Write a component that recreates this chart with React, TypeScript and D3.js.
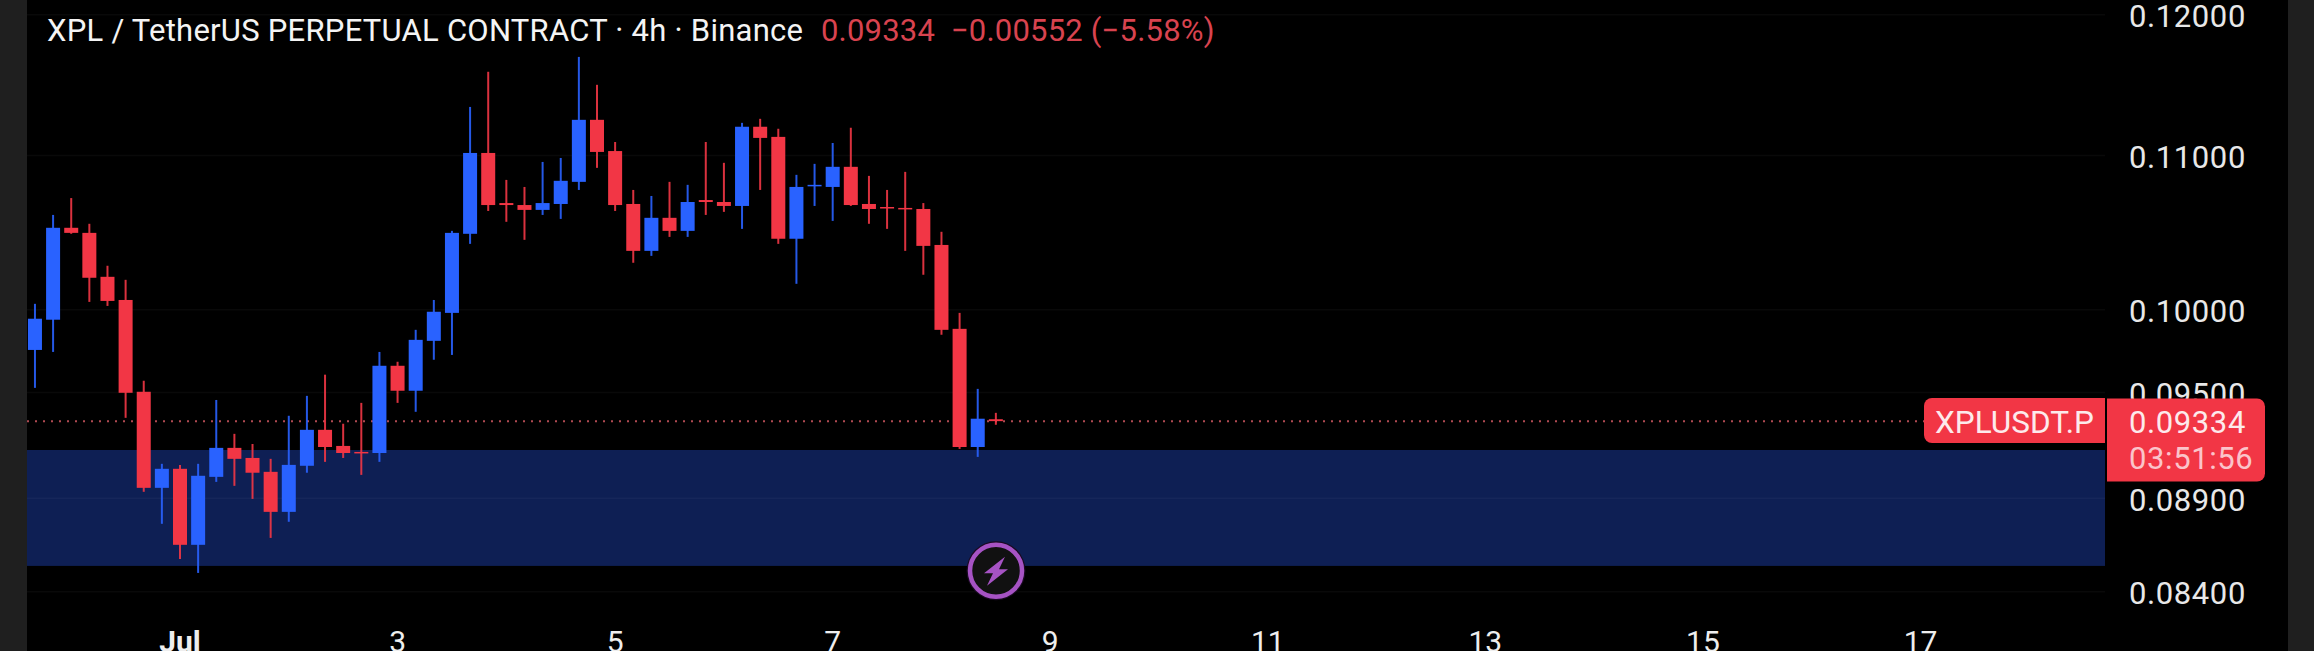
import React from "react";
import * as d3 from "d3";

const opens = [.09754,.09938,.10519,.10486,.10205,.10060,.09505,.08957,.09063,.08647,.09018,.09181,.09124,.09046,.08825,.09080,.09284,.09192,.09158,.09152,.09659,.09511,.09809,.09980,.10480,.11017,.10681,.10668,.10636,.10675,.10822,.11245,.11030,.10675,.10370,.10584,.10499,.10701,.10688,.10662,.11197,.11127,.10448,.10795,.10788,.10923,.10675,.10655,.10649,.10642,.10408,.09882,.09186,.09345];
const highs = [.10036,.10603,.10714,.10545,.10275,.10186,.09570,.09091,.09085,.09091,.09457,.09261,.09203,.09119,.09365,.09481,.09606,.09319,.09440,.09742,.09683,.09876,.10060,.10499,.11335,.11584,.10835,.10788,.10956,.10983,.11691,.11491,.11092,.10768,.10728,.10822,.10802,.11092,.10950,.11224,.11252,.11183,.10869,.10943,.11085,.11190,.10862,.10768,.10889,.10681,.10493,.09980,.09522,.09382];
const lows = [.09528,.09742,.10480,.10048,.10023,.09353,.08935,.08760,.08572,.08498,.08990,.08968,.08896,.08684,.08771,.09041,.09102,.09124,.09029,.09102,.09440,.09388,.09695,.09724,.10415,.10629,.10558,.10441,.10603,.10577,.10768,.10916,.10629,.10294,.10338,.10460,.10460,.10603,.10623,.10512,.10768,.10415,.10161,.10662,.10564,.10662,.10545,.10512,.10370,.10218,.09846,.09175,.09130,.09313];
const closes = [.09944,.10519,.10486,.10199,.10054,.09499,.08957,.09063,.08647,.09024,.09181,.09119,.09041,.08825,.09085,.09284,.09186,.09152,.09152,.09659,.09511,.09815,.09987,.10486,.11017,.10668,.10668,.10636,.10681,.10829,.11245,.11024,.10668,.10370,.10584,.10499,.10688,.10688,.10662,.11197,.11120,.10448,.10788,.10802,.10923,.10668,.10642,.10649,.10642,.10402,.09876,.09186,.09348,.09334];

const priceTicks = [0.12, 0.11, 0.1, 0.095, 0.089, 0.084];
const dateLabels = ["Jul", "3", "5", "7", "9", "11", "13", "15", "17"];
const zonePrices = [0.09169, 0.08535];
const lastPrice = 0.09334;
const titleMain = "XPL / TetherUS PERPETUAL CONTRACT · 4h · Binance";
const titleQuote = "0.09334  −0.00552 (−5.58%)";

const W = 2314, H = 651;
const PLOT_L = 27, PLOT_R = 2105;
const BLUE = "#2962ff", RED = "#f23645";
const FONT = "Roboto, sans-serif";

export default function App() {
  const y = d3.scaleLog().domain([0.084, 0.12]).range([591.7, 14.7]);
  const x = d3.scaleLinear().domain([8, 104]).range([180, 1920.5]);
  const bodyW = 14;
  const lastY = y(lastPrice);
  return (
    <svg width={W} height={H} viewBox={`0 0 ${W} ${H}`} style={{ position: "absolute", left: 0, top: 0, background: "#000", fontFamily: FONT }}>
      <rect x={0} y={0} width={PLOT_L} height={H} fill="#1f1f1f" />
      <rect x={2288} y={0} width={W - 2288} height={H} fill="#1f1f1f" />
      <rect x={PLOT_L} y={y(zonePrices[0])} width={PLOT_R - PLOT_L} height={y(zonePrices[1]) - y(zonePrices[0])} fill="#0e1f54" />
      {priceTicks.map((t) => (
        <line key={t} x1={PLOT_L} x2={PLOT_R} y1={y(t)} y2={y(t)} stroke="#fff" strokeOpacity={0.035} strokeWidth={1.5} />
      ))}
      <line x1={PLOT_L} x2={1924} y1={lastY} y2={lastY} stroke="#b04a52" strokeWidth={2} strokeDasharray="2 6" />
      {opens.map((o, i) => {
        const c = closes[i];
        const col = c >= o ? BLUE : RED;
        const top = y(Math.max(o, c));
        const bot = y(Math.min(o, c));
        return (
          <g key={i}>
            <line x1={x(i)} x2={x(i)} y1={y(highs[i])} y2={y(lows[i])} stroke={col} strokeWidth={2} strokeOpacity={0.9} />
            <rect x={x(i) - bodyW / 2} y={top} width={bodyW} height={Math.max(bot - top, 1.5)} fill={col} />
          </g>
        );
      })}
      <text x={47} y={41} fontSize={31} letterSpacing={0.25} fill="#f4f4f4">{titleMain}</text>
      <text x={821} y={41} fontSize={31} letterSpacing={0.2} fill="#d8434f" xmlSpace="preserve">{titleQuote}</text>
      {priceTicks.map((t) => (
        <text key={t} x={2129} y={y(t) + 12.5} fontSize={31} letterSpacing={0.6} fill="#e8e8e8">{t.toFixed(5)}</text>
      ))}
      {dateLabels.map((d, i) => (
        <text key={d} x={x(8 + 12 * i)} y={652} fontSize={30} textAnchor="middle" fill="#eee" fontWeight={i === 0 ? 700 : 400}>{d}</text>
      ))}
      <path d="M1924 406 a8 8 0 0 1 8 -8 H2105 V443 H1932 a8 8 0 0 1 -8 -8 Z" fill="#f23645" />
      <text x={2014.5} y={433} fontSize={31.5} textAnchor="middle" fill="#fdeaec">XPLUSDT.P</text>
      <path d="M2107 398.5 H2257 a8 8 0 0 1 8 8 V473.5 a8 8 0 0 1 -8 8 H2107 Z" fill="#f23645" />
      <text x={2129} y={433} fontSize={31} letterSpacing={0.6} fill="#fdeaec">0.09334</text>
      <text x={2129} y={469} fontSize={31} letterSpacing={0.6} fill="#fbc4ca">03:51:56</text>
      <g transform="translate(996,570.7)">
        <circle r={29.5} fill="#1a0a22" />
        <circle r={26} fill="#111" stroke="#a653c4" strokeWidth={4.5} />
        <path d="M9,-14 L-12,2.5 L-3,2.5 L-9,15 L12,-1.5 L3,-1.5 Z" fill="#a653c4" />
      </g>
    </svg>
  );
}
